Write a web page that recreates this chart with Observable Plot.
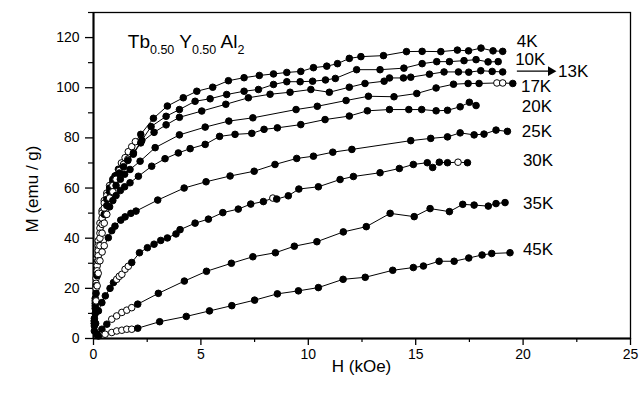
<!DOCTYPE html>
<html><head><meta charset="utf-8">
<script src="https://cdn.jsdelivr.net/npm/d3@7"></script>
<script src="https://cdn.jsdelivr.net/npm/@observablehq/plot@0.6"></script>
<style>
html,body{margin:0;padding:0;background:#fff;}
#chart svg{display:block;font-family:"Liberation Sans",Arial,Helvetica,sans-serif;}
</style></head><body><div id="chart"></div>
<script>
// ---- axis ticks ----
const xTicks = [0, 5, 10, 15, 20, 25];
const xMinor = [2.5, 7.5, 12.5, 17.5, 22.5];
const yTicks = [0, 20, 40, 60, 80, 100, 120];
const yMinor = [10, 30, 50, 70, 90, 110, 130];
const xTitle = "H (kOe)";
const yTitle = "M (emu / g)";

// ---- series: [H (kOe), M (emu/g), hollow marker flag] ----
const T4 = [[0.04,8],[0.08,16],[0.12,24,1],[0.17,32,1],[0.22,39,1],[0.3,46,1],[0.4,51,1],[0.5,55,1],[0.62,58,1],[0.75,61,1],[0.9,63.5],[1.0,64.8],[1.16,67.5],[1.3,70,1],[1.47,72.1,1],[1.62,74.5,1],[1.78,76.5,1],[1.95,78.5,1],[2.2,81.4],[2.79,87.8],[3.44,92.7],[4.18,96.0],[4.81,98.6],[5.55,100.2],[6.28,102.8],[7.01,104.0],[7.72,104.9],[8.38,105.5],[9.0,106.1],[9.65,106.5],[10.24,108.0],[10.86,108.6],[11.36,109.6],[11.91,111.7],[12.45,112.4],[13.5,112.8],[14.57,114.4],[15.3,114.5],[16.17,114.4],[16.94,115.0],[17.46,114.7],[18.04,115.8],[18.6,114.7],[19.05,114.5]];
const T10 = [[0.04,7],[0.08,15],[0.12,22,1],[0.17,30,1],[0.22,37,1],[0.3,44,1],[0.4,50,1],[0.5,54,1],[0.62,57,1],[0.75,60],[0.9,62.5],[1.05,65],[1.2,67,1],[1.4,69.5,1],[1.6,71.5,1],[1.86,74],[2.25,79],[2.68,84.5],[3.38,88.6],[4.0,91.3],[4.73,94.6],[5.43,95.6],[6.2,97.3],[7.01,98.6],[7.68,99.3],[8.38,101.3],[9.0,102.4],[9.62,102.4],[10.2,102.6],[10.8,103.1],[11.26,103.7],[12.25,107.2],[13.34,107.2],[14.45,107.8],[15.3,109.6],[15.98,110.4],[16.57,110.4],[17.25,110.8],[17.81,111.2],[18.37,110.3],[18.84,110.4]];
const T13 = [[0.04,7],[0.08,14],[0.12,21],[0.17,29,1],[0.22,35,1],[0.3,42,1],[0.4,48,1],[0.5,52,1],[0.62,55.5],[0.75,58.5],[0.9,61,1],[1.05,63.5,1],[1.2,66],[1.4,68.5],[1.6,71],[1.85,73.5],[2.2,78],[2.82,82.2],[3.38,85.2],[4.0,88.2],[5.04,90.7],[6.16,93.4],[7.21,96.0],[8.22,97.4],[9.15,98.2],[10.12,99.3],[10.98,98.2],[11.91,100.2],[12.64,101.7],[13.53,102.6],[13.78,103.9],[14.43,103.9],[14.77,104.2],[15.64,105.4],[16.32,106.3],[16.99,106.3],[17.47,106.2],[18.03,106.8],[18.56,106.5],[19.05,106.3]];
const T17 = [[0.04,6],[0.08,13],[0.12,20,1],[0.17,27,1],[0.22,33,1],[0.3,40,1],[0.4,45.5,1],[0.5,49.5],[0.62,53],[0.75,56,1],[0.9,58.5,1],[1.05,61],[1.25,63.5],[1.45,65.5],[1.7,67.4],[2.17,70.7],[2.87,76.1],[4.0,81.2],[5.2,84.3],[6.3,86.7],[7.42,88.0],[9.43,91.3],[10.42,92.6],[11.76,94.9],[12.8,96.6],[13.99,96.4],[15.05,97.7],[15.95,99.9],[16.76,101.4],[17.44,101.7],[17.95,101.7],[18.78,101.9,1],[19.05,101.9,1],[19.52,101.7]];
const T20 = [[0.04,6],[0.08,12],[0.12,18],[0.17,25],[0.22,31,1],[0.3,37,1],[0.4,42,1],[0.5,46,1],[0.62,49.5,1],[0.75,52.5],[0.9,55],[1.05,57],[1.25,59],[1.45,60.5],[1.7,62.1],[2.09,64.7],[2.71,68.7],[3.33,71.7],[3.95,74.0],[4.5,75.7],[5.2,77.4],[5.87,80.6],[6.59,81.4],[7.37,81.8],[7.94,83.4],[8.56,84.0],[9.65,85.3],[10.78,87.3],[11.91,88.7],[12.75,90.8],[13.78,91.3],[14.68,91.3],[15.28,91.3],[15.95,90.8],[16.48,91.0],[17.07,92.4],[17.5,94.2],[17.81,92.9]];
const T25 = [[0.04,5],[0.08,10],[0.12,15,1],[0.17,21,1],[0.22,26,1],[0.3,31,1],[0.4,34.5,1],[0.5,37,1],[0.69,40.2],[0.85,43],[1.0,44.8],[1.27,47.2],[1.47,48.5],[1.74,49.9],[1.98,50.8],[2.99,55.2],[4.22,60.0],[5.24,62.5],[6.36,64.8],[7.48,66.7],[8.45,69.4],[9.46,71.8],[10.24,72.7],[11.14,74.3],[12.03,75.4],[14.77,78.9],[15.7,79.8],[16.48,80.4],[17.07,82.0],[17.72,81.2],[18.18,81.5],[18.74,83.1],[19.27,82.6]];
const T30 = [[0.04,3],[0.1,6],[0.23,11],[0.39,14.3],[0.55,17],[0.77,20],[0.93,22.3],[1.08,23.6,1],[1.2,24.8,1],[1.32,25.6,1],[1.47,27.6,1],[1.62,28.8,1],[1.78,30.3],[2.14,34.2],[2.51,36.2],[2.82,37.6],[3.13,39.1],[3.44,40.1],[3.84,41.7],[4.03,43.4],[4.73,46.0],[5.35,47.6],[6.02,50.2],[6.74,51.6],[7.32,53.6],[7.91,54.6],[8.35,56.0,1],[8.53,55.6],[9.07,56.9],[9.56,59.6],[10.47,60.5],[11.48,63.4],[12.1,64.6],[13.34,66.1],[14.24,67.8],[14.89,69.4],[15.54,70.1],[15.79,68.2],[16.1,70.3],[16.48,70.1],[16.97,70.3,1],[17.41,70.1]];
const T35 = [[0.15,1.7],[0.39,3.7],[0.62,5.7],[0.85,7.7,1],[1.08,9.0,1],[1.32,10.4,1],[1.55,11.3,1],[1.78,12.3,1],[2.06,13.7],[3.02,18.0],[4.23,22.9],[5.26,26.8],[6.42,30.0],[7.42,32.6],[8.47,34.2],[9.35,36.8],[10.4,38.6],[11.63,42.5],[12.7,44.6],[13.81,49.9],[14.93,48.6],[15.67,51.8],[16.57,50.6],[17.19,53.5],[17.72,53.2],[18.38,52.8],[18.74,53.8],[19.16,54.2]];
const T45 = [[0.23,1.0],[0.54,1.7,1],[0.85,2.4,1],[1.08,3.0,1],[1.32,3.3,1],[1.55,3.7,1],[1.78,3.7,1],[2.06,4.1],[3.08,6.7],[4.32,8.8],[5.4,11.0],[6.44,13.1],[7.5,15.3],[8.56,17.8],[9.54,19.0],[10.47,20.3],[11.62,23.6],[12.65,24.4],[13.93,27.2],[14.89,28.3],[15.36,28.9],[16.09,30.8],[16.79,30.8],[17.47,32.1],[18.09,33.3],[18.54,33.9],[19.39,34.2]];

// ---- curve labels (text, position in data units) ----
const labelText = ["4K", "10K", "17K", "20K", "25K", "30K", "35K", "45K"];
const labelH = [19.71, 19.63, 19.9, 19.94, 19.94, 19.99, 20.0, 19.99];
const labelM = [118.6, 111.2, 100.6, 92.4, 82.5, 71.1, 54.0, 35.5];
const arrowLabel = "13K";
const arrowH = [19.71, 21.41, 21.63];
const arrowM = 106.6;
const titleParts = [["Tb", ""], ["0.50", "sub"], [" Y", ""], ["0.50", "sub"], [" Al", ""], ["2", "sub"]];
const titleH = 1.62, titleM = 115.8;

const seriesNames = ["4K","10K","13K","17K","20K","25K","30K","35K","45K"];
const seriesData = [T4, T10, T13, T17, T20, T25, T30, T35, T45];
const rows = seriesData.flatMap((arr, k) => arr.map(([h, m, o]) => ({t: seriesNames[k], h, m, fill: o ? "white" : "black"})));

const FONT = '"Liberation Sans",Arial,Helvetica,sans-serif';
const chart = Plot.plot({
  width: 639, height: 394,
  marginLeft: 93, marginRight: 9, marginTop: 12, marginBottom: 56,
  x: {domain: [0, 25]},
  y: {domain: [0, 130]},
  style: {fontFamily: FONT, fontSize: "14px", color: "black", background: "white"},
  marks: [
    Plot.frame({stroke: "black", strokeWidth: 1.3}),
    Plot.ruleX([0], {stroke: "black", strokeWidth: 2}),
    Plot.ruleY([0], {stroke: "black", strokeWidth: 2}),
    Plot.axisX({ticks: xTicks, tickSize: 7, tickPadding: 4, label: null, tickFormat: d => String(d), strokeWidth: 1.3, fontSize: 14}),
    Plot.axisX({ticks: xMinor, tickSize: 4, tickFormat: () => "", label: null, strokeWidth: 1.2}),
    Plot.axisY({ticks: yTicks, tickSize: 8, tickPadding: 6, label: null, tickFormat: d => String(d), strokeWidth: 1.3, fontSize: 14}),
    Plot.axisY({ticks: yMinor, tickSize: 5, tickFormat: () => "", label: null, strokeWidth: 1.2}),
    Plot.line(rows, {x: "h", y: "m", z: "t", stroke: "black", strokeWidth: 1}),
    Plot.dot(rows, {x: "h", y: "m", r: 3.3, fill: "fill", stroke: "black", strokeWidth: 1}),
    Plot.text(labelText, {x: (d, i) => labelH[i], y: (d, i) => labelM[i], text: d => d, textAnchor: "start", fontSize: 17, fill: "black"}),
    Plot.link([arrowLabel], {x1: () => arrowH[0], x2: () => arrowH[1] - 0.25, y1: () => arrowM, y2: () => arrowM, stroke: "black", strokeWidth: 1.2}),
    Plot.dot([arrowLabel], {x: () => arrowH[1] - 0.12, y: () => arrowM, symbol: "triangle", rotate: 90, r: 3.6, fill: "black", stroke: "none"}),
    Plot.text([arrowLabel], {x: () => arrowH[2], y: () => arrowM, text: d => d, textAnchor: "start", fontSize: 17, fill: "black"})
  ]
});
document.getElementById("chart").appendChild(chart);

// ---- title with subscripts and axis titles ----
const svg = d3.select(chart);
const sx = chart.scale("x"), sy = chart.scale("y");
const t = svg.append("text")
  .attr("x", sx.apply(titleH)).attr("y", sy.apply(titleM))
  .attr("text-anchor", "start")
  .attr("font-family", FONT).attr("font-size", 19).attr("fill", "black");
let shift = 0;
for (const [s, kind] of titleParts) {
  const sub = kind === "sub";
  const dy = sub ? 6 - shift : -shift;
  shift = sub ? 6 : 0;
  t.append("tspan").attr("dy", dy).attr("font-size", sub ? 12.5 : 19).text(s);
}
svg.append("text")
  .attr("x", (93 + 630) / 2).attr("y", 372)
  .attr("text-anchor", "middle").attr("font-family", FONT).attr("font-size", 17).attr("fill", "black")
  .text(xTitle);
svg.append("text")
  .attr("transform", `translate(38,${(12 + 338) / 2 + 14}) rotate(-90)`)
  .attr("text-anchor", "middle").attr("font-family", FONT).attr("font-size", 17).attr("fill", "black")
  .text(yTitle);
</script></body></html>
